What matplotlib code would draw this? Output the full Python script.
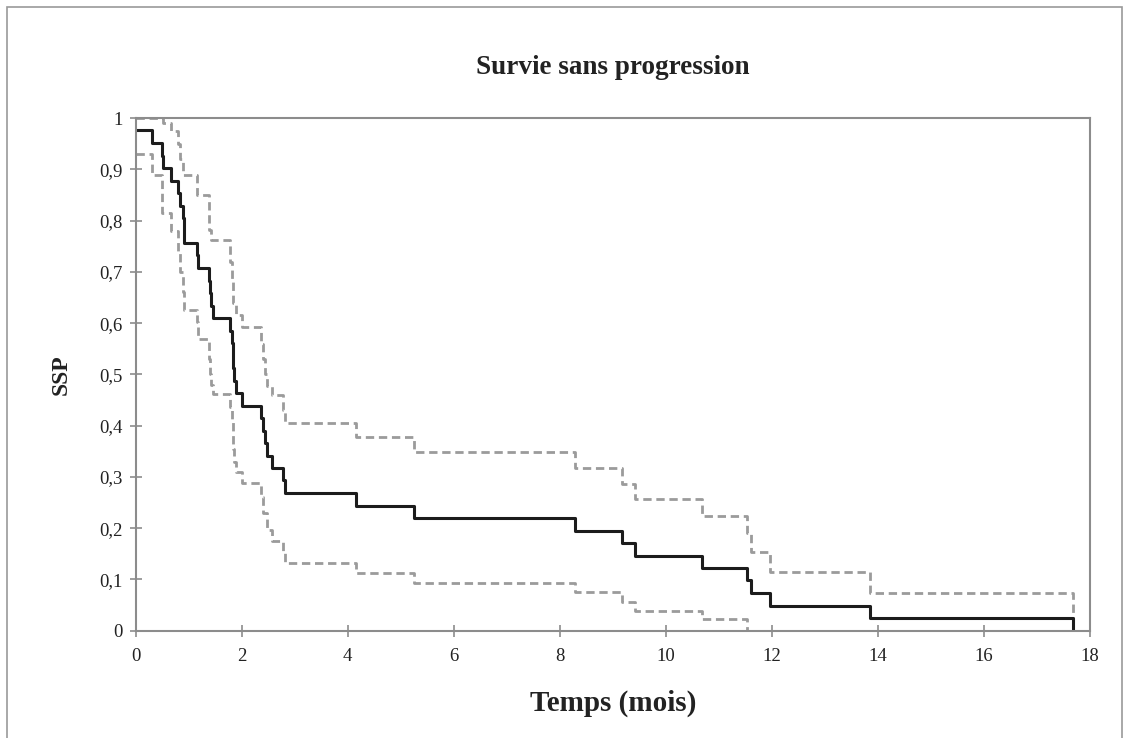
import matplotlib
matplotlib.use("Agg")
import matplotlib.pyplot as plt
from matplotlib.patches import Rectangle
from matplotlib.ticker import FuncFormatter

# Kaplan-Meier estimate (step function, post)
t_ssp = [0, 0.30, 0.50, 0.52, 0.66, 0.79, 0.83, 0.89, 0.905, 0.91,
         1.15, 1.18, 1.38, 1.40, 1.42, 1.45, 1.78, 1.82, 1.83, 1.84,
         1.86, 1.89, 2.00, 2.36, 2.40, 2.44, 2.47, 2.57, 2.77, 2.82,
         4.15, 5.26, 8.28, 9.17, 9.43, 10.68, 11.53, 11.60, 11.97, 13.85,
         17.68]
ssp = [0.976, 0.951, 0.927, 0.902, 0.878, 0.854, 0.829, 0.805, 0.780, 0.756,
       0.732, 0.707, 0.683, 0.659, 0.634, 0.610, 0.585, 0.561, 0.537, 0.512,
       0.488, 0.463, 0.439, 0.415, 0.390, 0.366, 0.341, 0.317, 0.293, 0.268,
       0.244, 0.220, 0.195, 0.171, 0.146, 0.122, 0.098, 0.073, 0.049, 0.024,
       0.0]

# upper confidence bound
t_upper = [0, 0.52, 0.66, 0.79, 0.84, 0.89, 1.15, 1.38, 1.43, 1.78,
           1.82, 1.84, 1.89, 2.00, 2.36, 2.40, 2.44, 2.47, 2.57, 2.77,
           2.82, 4.15, 5.26, 8.28, 9.17, 9.43, 10.68, 11.53, 11.60, 11.96,
           13.85, 17.68]
upper = [1.0, 0.99, 0.975, 0.95, 0.92, 0.888, 0.849, 0.781, 0.762, 0.72,
         0.68, 0.64, 0.615, 0.593, 0.56, 0.53, 0.50, 0.478, 0.459, 0.43,
         0.405, 0.377, 0.348, 0.317, 0.287, 0.256, 0.224, 0.19, 0.154, 0.115,
         0.074, 0.0]

# lower confidence bound
t_lower = [0, 0.30, 0.50, 0.66, 0.79, 0.83, 0.89, 0.91, 1.15, 1.18,
           1.38, 1.40, 1.42, 1.45, 1.78, 1.82, 1.83, 1.84, 1.86, 1.89,
           2.00, 2.36, 2.40, 2.47, 2.57, 2.77, 2.82, 4.15, 5.26, 8.28,
           9.17, 9.43, 10.68, 11.53, 17.68]
lower = [0.929, 0.888, 0.814, 0.780, 0.74, 0.70, 0.66, 0.625, 0.602, 0.570,
         0.53, 0.50, 0.48, 0.461, 0.437, 0.41, 0.38, 0.355, 0.33, 0.31,
         0.288, 0.26, 0.23, 0.196, 0.175, 0.155, 0.133, 0.113, 0.094, 0.075,
         0.0565, 0.039, 0.0228, 0.0, 0.0]

x_ticks = list(range(0, 19, 2))
y_ticks = [i / 10 for i in range(11)]

plt.rcParams["font.family"] = ["Liberation Serif", "DejaVu Serif"]

fig = plt.figure(figsize=(11.29, 7.38), dpi=100)
fig.patches.append(Rectangle((0.006, -0.01), 0.988, 1.0, transform=fig.transFigure,
                             fill=False, edgecolor="#9a9a9a", linewidth=1.2))
ax = fig.add_axes([0.1202, 0.1454, 0.845, 0.6946])

dash = (0, (3.0, 1.7))
ax.step(t_upper, upper, where="post", color="#9b9b9b", linewidth=2.0, linestyle=dash)
ax.step(t_lower, lower, where="post", color="#9b9b9b", linewidth=2.0, linestyle=dash)
ax.step(t_ssp, ssp, where="post", color="#1c1c1c", linewidth=2.2)

ax.set_xlim(0, 18)
ax.set_ylim(0, 1)
ax.set_xticks(x_ticks)
ax.set_yticks(y_ticks)
ax.yaxis.set_major_formatter(FuncFormatter(lambda v, p: f"{v:g}".replace(".", ",")))
ax.tick_params(direction="inout", length=9, width=1.2, color="#8c8c8c",
               labelsize=13.5, labelcolor="#222222")
ax.tick_params(axis="x", pad=8)
ax.tick_params(axis="y", pad=5)
for spine in ax.spines.values():
    spine.set_color("#8c8c8c")
    spine.set_linewidth(1.5)

ax.set_title("Survie sans progression", fontsize=19.5, fontweight="bold",
             color="#222222", pad=32)
ax.set_xlabel("Temps (mois)", fontsize=21, fontweight="bold", color="#222222", labelpad=18)
ax.set_ylabel("SSP", fontsize=17, fontweight="bold", color="#222222", labelpad=20)

fig.savefig("out.png", dpi=100)
